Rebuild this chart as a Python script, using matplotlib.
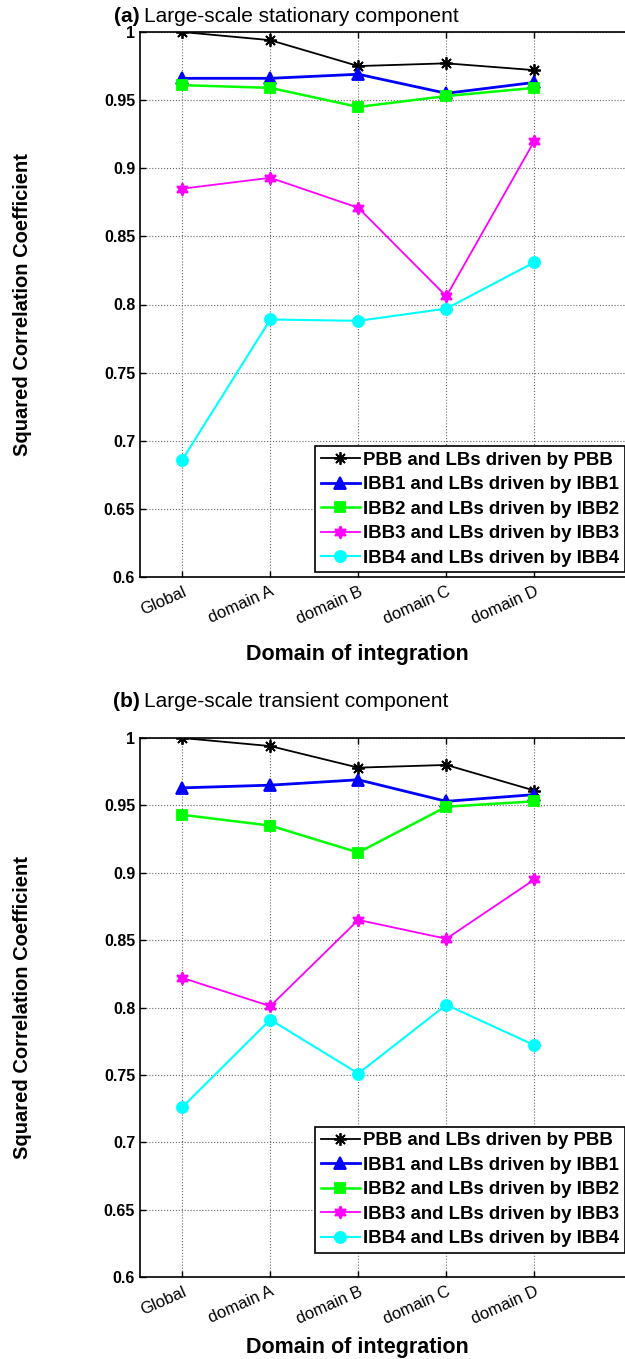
import numpy as np
import matplotlib
matplotlib.use("Agg")
import matplotlib.pyplot as plt
from matplotlib.ticker import FormatStrFormatter

plt.rcParams['font.family'] = ['Liberation Sans', 'DejaVu Sans']

domains = ['Global', 'domain A', 'domain B', 'domain C', 'domain D']
labels = ['PBB and LBs driven by PBB', 'IBB1 and LBs driven by IBB1',
          'IBB2 and LBs driven by IBB2', 'IBB3 and LBs driven by IBB3',
          'IBB4 and LBs driven by IBB4']

# (a) stationary component
pbb_a  = [1.000, 0.994, 0.975, 0.977, 0.972]
ibb1_a = [0.966, 0.966, 0.969, 0.955, 0.963]
ibb2_a = [0.961, 0.959, 0.945, 0.953, 0.959]
ibb3_a = [0.885, 0.893, 0.871, 0.806, 0.920]
ibb4_a = [0.686, 0.789, 0.788, 0.797, 0.831]

# (b) transient component
pbb_b  = [1.000, 0.994, 0.978, 0.980, 0.961]
ibb1_b = [0.963, 0.965, 0.969, 0.953, 0.958]
ibb2_b = [0.943, 0.935, 0.915, 0.949, 0.953]
ibb3_b = [0.822, 0.801, 0.865, 0.851, 0.895]
ibb4_b = [0.726, 0.791, 0.751, 0.802, 0.772]

# colour, marker, size, linewidth (matlab-like asterisk and hexagram)
styles = [('k', (8, 2, 0), 9, 1.3), ('#0000ff', '^', 8, 2.0),
          ('#00ff00', 's', 7, 1.8), ('#ff00ff', (6, 1, 0), 9, 1.3),
          ('#00ffff', 'o', 8, 1.5)]

W, H = 625, 1359
fig = plt.figure(figsize=(W / 100, H / 100), dpi=100)

def panel(top, bot, series, leg_bottom, tag, title, xl_y, title_y):
    ax = fig.add_axes([140 / W, 1 - bot / H, 500 / W, (bot - top) / H])
    x = np.arange(1, 6)
    for (c, m, ms, lw), s, lab in zip(styles, series, labels):
        ax.plot(x, s, color=c, marker=m, markersize=ms, lw=lw, label=lab,
                markeredgewidth=1.3)
    ax.set_xlim(0.52, 6.2)
    ax.set_ylim(0.6, 1.0)
    ax.set_xticks(x)
    ax.set_xticklabels(domains, rotation=24, ha='right', rotation_mode='anchor',
                       fontsize=12)
    ax.set_yticks(np.arange(0.6, 1.001, 0.05))
    ax.yaxis.set_major_formatter(FormatStrFormatter('%g'))
    for t in ax.get_yticklabels():
        t.set_fontweight('bold')
        t.set_fontsize(11.5)
    ax.tick_params(axis='x', pad=5)
    ax.tick_params(direction='in', top=True, right=False, length=4, width=1)
    ax.grid(True, linestyle=':', color='0.4', lw=0.8)
    for sp in ax.spines.values():
        sp.set_linewidth(1.2)
    ax.set_ylabel('Squared Correlation Coefficient', fontsize=14.5, fontweight='bold')
    ax.yaxis.set_label_coords(-0.215, 0.5)
    leg = ax.legend(loc='lower left', bbox_to_anchor=(0.35, leg_bottom),
                    borderaxespad=0, fancybox=False, edgecolor='k',
                    prop={'weight': 'bold', 'size': 13.4}, handlelength=2.1,
                    handletextpad=0.2, borderpad=0.3, labelspacing=0.4,
                    framealpha=1)
    leg.get_frame().set_linewidth(1.2)
    fig.text(357 / W, 1 - xl_y / H, 'Domain of integration', ha='center',
             va='center', fontsize=15.5, fontweight='bold')
    fig.text(140 / W, 1 - title_y / H, tag, ha='right', va='center',
             fontsize=15, fontweight='bold')
    fig.text(144 / W, 1 - title_y / H, title, ha='left', va='center',
             fontsize=15)
    return ax

panel(32, 577, [pbb_a, ibb1_a, ibb2_a, ibb3_a, ibb4_a], 0.009,
      '(a)', 'Large-scale stationary component', 655, 17)
panel(738, 1277, [pbb_b, ibb1_b, ibb2_b, ibb3_b, ibb4_b], 0.045,
      '(b)', 'Large-scale transient component', 1347, 701)

fig.savefig('out.png', dpi=100)
